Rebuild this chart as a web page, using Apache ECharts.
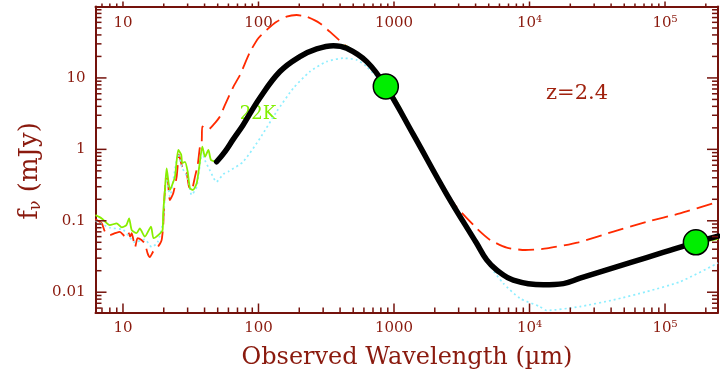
<!DOCTYPE html>
<html>
<head>
<meta charset="utf-8">
<script src="https://cdn.jsdelivr.net/npm/echarts@6.0.0/dist/echarts.min.js"></script>
<style>
  html, body { margin: 0; padding: 0; background: #ffffff; }
  #chart { width: 720px; height: 375px; }
</style>
</head>
<body>
<div id="chart"></div>
<script>
// Axis ranges (observed wavelength in micron, flux density in mJy)
const xRange = [6.27, 2.46e5];
const yRange = [0.0052, 100];

// Tick positions and labels
const xMajorTicks = [10, 100, 1000, 1e4, 1e5];
const xTickLabels = ['10', '100', '1000', '10⁴', '10⁵'];
const xMinorTicks = [7, 8, 9, 20, 30, 40, 50, 60, 70, 80, 90,
  200, 300, 400, 500, 600, 700, 800, 900,
  2000, 3000, 4000, 5000, 6000, 7000, 8000, 9000,
  20000, 30000, 40000, 50000, 60000, 70000, 80000, 90000, 200000];
const yMajorTicks = [0.01, 0.1, 1, 10];
const yTickLabels = ['0.01', '0.1', '1', '10'];
const yMinorTicks = [0.006, 0.007, 0.008, 0.009,
  0.02, 0.03, 0.04, 0.05, 0.06, 0.07, 0.08, 0.09,
  0.2, 0.3, 0.4, 0.5, 0.6, 0.7, 0.8, 0.9,
  2, 3, 4, 5, 6, 7, 8, 9,
  20, 30, 40, 50, 60, 70, 80, 90];

// Upper model SED (red dashed)
const warmModel = [
  [6.27, 0.105], [6.97, 0.092], [7.37, 0.070], [8.0, 0.063], [8.73, 0.067], [9.5, 0.070],
  [10.3, 0.061], [10.9, 0.070], [11.3, 0.060], [11.6, 0.067], [12.3, 0.043], [12.8, 0.057],
  [13.7, 0.054], [14.5, 0.048], [15.2, 0.035], [15.8, 0.031], [16.7, 0.037], [17.7, 0.041],
  [18.8, 0.048], [19.3, 0.054], [19.8, 0.083], [20.2, 0.195], [20.8, 0.415], [21.4, 0.37],
  [22.2, 0.195], [23.5, 0.243], [24.9, 0.415], [25.9, 0.84], [26.9, 0.64], [27.9, 0.51],
  [29.5, 0.46], [30.7, 0.30], [32.1, 0.27], [34.0, 0.415], [35.6, 0.605], [37.0, 1.09],
  [38.1, 1.28], [38.5, 2.1], [42.7, 1.9], [46.4, 2.2], [52, 2.9], [56.6, 4.2], [65.2, 7.5],
  [73, 11], [86.5, 23], [99.7, 36], [115, 47], [136, 61], [161, 72], [191, 76], [227, 72],
  [285, 58], [357, 40], [448, 27.4], [531, 21], [629, 16.5], [870, 7.6], [1387, 1.62],
  [2449, 0.25], [2880, 0.158], [4070, 0.0785], [5120, 0.054], [6790, 0.042], [9300, 0.039],
  [13400, 0.041], [23000, 0.050], [41600, 0.0705], [73300, 0.097], [129000, 0.127],
  [228000, 0.176], [246000, 0.181]
];

// 22 K model SED with PAH spectrum (green)
const pahModel = [
  [6.27, 0.12], [6.97, 0.108], [8.0, 0.087], [8.98, 0.092], [9.8, 0.081], [10.6, 0.087],
  [11.1, 0.108], [11.6, 0.074], [12.6, 0.067], [13.3, 0.078], [14.5, 0.060], [16.1, 0.083],
  [16.8, 0.057], [18.2, 0.063], [19.6, 0.074], [19.8, 0.127], [20.4, 0.27], [21.0, 0.54],
  [22.2, 0.27], [23.1, 0.32], [24.2, 0.415], [25.6, 0.98], [26.9, 0.84], [27.4, 0.64],
  [28.7, 0.67], [30.0, 0.49], [31.2, 0.285], [32.9, 0.27], [35.0, 0.335], [36.4, 0.54],
  [38.5, 1.09], [40.3, 0.79], [42.7, 0.98], [44.6, 0.71], [49.1, 0.67], [56.6, 0.93],
  [65, 1.38], [77, 2.2], [102, 5.2], [144, 12.3], [202, 19.9], [269, 25.5], [357, 28.8],
  [440, 28.2], [530, 22], [629, 17.4], [870, 7.9], [1070, 4.4], [1387, 1.62], [2449, 0.235],
  [4070, 0.048], [4830, 0.0283], [5720, 0.0205], [7590, 0.0148], [12650, 0.0127],
  [17800, 0.0132], [23600, 0.0157], [55300, 0.0259], [96800, 0.036],
  [169000, 0.048], [246000, 0.056]
];

// Lower model SED (cyan dotted)
const coldModel = [
  [6.27, 0.10], [8.0, 0.080], [10.0, 0.075], [12.3, 0.050], [14.5, 0.055], [16.3, 0.043],
  [18.0, 0.050], [19.8, 0.10], [21.0, 0.45], [22.2, 0.22], [25.6, 0.85], [27.4, 0.55],
  [30.0, 0.40], [32.1, 0.23], [35.0, 0.30], [38.5, 0.90], [40.3, 0.70], [44.0, 0.50],
  [49.0, 0.35], [55.0, 0.45], [60.0, 0.49], [77, 0.67], [102.6, 1.43], [136, 3.37],
  [181, 7.2], [240, 12.3], [318, 16.9], [423, 18.9], [531, 17.9], [629, 14.4], [870, 7.3],
  [1387, 1.55], [2449, 0.225], [3849, 0.058], [4830, 0.0268], [6410, 0.0133], [8500, 0.0082],
  [11900, 0.0063], [13400, 0.00555], [23600, 0.0063], [41600, 0.0078], [73300, 0.0102],
  [129000, 0.014], [246000, 0.0256]
];

// Best-fit SED (black)
const bestFit = [
  [49.1, 0.67], [56.6, 0.93], [65, 1.38], [77, 2.2], [102, 5.2], [144, 12.3], [202, 19.9],
  [269, 25.5], [357, 28.3], [448, 26], [629, 16.9], [870, 7.6], [1387, 1.62], [2449, 0.235],
  [4070, 0.0484], [4830, 0.0283], [5720, 0.0205], [7590, 0.0148], [12650, 0.0127],
  [17800, 0.0132], [23600, 0.0157], [55300, 0.0259], [96800, 0.036],
  [169000, 0.050], [246000, 0.061]
];

// Photometric detections (850 um and 1.4 GHz)
const detections = [[870, 7.6], [169000, 0.050]];

const axisColor = '#74120c';
const textColor = '#8a1a0e';
const serif = 'DejaVu Serif';

function majorIndex(v) { return Math.round(Math.log10(v)); }

const chart = echarts.init(document.getElementById('chart'), null, { renderer: 'canvas' });

chart.setOption({
  backgroundColor: '#ffffff',
  animation: false,
  grid: { left: 95.5, right: 2, top: 6.5, bottom: 62.5, containLabel: false },
  xAxis: [
    {
      type: 'log', logBase: 10, position: 'bottom', min: xRange[0], max: xRange[1],
      axisLine: { show: true, onZero: false, lineStyle: { color: axisColor, width: 2 } },
      axisTick: { show: false },
      axisLabel: { customValues: xMajorTicks, color: textColor, fontFamily: serif, fontSize: 15, margin: 8,
        formatter: function (v) { return xTickLabels[majorIndex(v) - 1]; } },
      splitLine: { show: false }, minorTick: { show: false }
    },
    {
      type: 'log', logBase: 10, position: 'top', min: xRange[0], max: xRange[1],
      axisLine: { show: true, onZero: false, lineStyle: { color: axisColor, width: 2 } },
      axisTick: { show: false },
      axisLabel: { customValues: xMajorTicks, inside: true, color: textColor, fontFamily: serif, fontSize: 15, margin: 9,
        formatter: function (v) { return xTickLabels[majorIndex(v) - 1]; } },
      splitLine: { show: false }, minorTick: { show: false }
    }
  ],
  yAxis: [
    {
      type: 'log', logBase: 10, position: 'left', min: yRange[0], max: yRange[1],
      axisLine: { show: true, onZero: false, lineStyle: { color: axisColor, width: 2 } },
      axisTick: { show: false },
      axisLabel: { customValues: yMajorTicks, color: textColor, fontFamily: serif, fontSize: 15, margin: 10,
        formatter: function (v) { return yTickLabels[majorIndex(v) + 2]; } },
      splitLine: { show: false }, minorTick: { show: false }
    },
    {
      type: 'log', logBase: 10, position: 'right', min: yRange[0], max: yRange[1],
      axisLine: { show: true, onZero: false, lineStyle: { color: axisColor, width: 2 } },
      axisTick: { show: false }, axisLabel: { show: false },
      splitLine: { show: false }, minorTick: { show: false }
    }
  ],
  series: [
    {
      name: 'warm', type: 'line', data: warmModel, showSymbol: false, smooth: 0.2, z: 2,
      lineStyle: { color: '#ff2a00', width: 1.8, type: [16, 7] }
    },
    {
      name: 'cold', type: 'line', data: coldModel, showSymbol: false, smooth: 0.2, z: 2,
      lineStyle: { color: '#8eeeff', width: 1.7, type: [2, 3] }
    },
    {
      name: 'pah', type: 'line', data: pahModel, showSymbol: false, smooth: 0.2, z: 3,
      lineStyle: { color: '#88ee00', width: 1.8 }
    },
    {
      name: 'fit', type: 'line', data: bestFit, showSymbol: false, smooth: 0.4, z: 4,
      lineStyle: { color: '#000000', width: 5.5, cap: 'round', join: 'round' }
    },
    {
      name: 'detections', type: 'scatter', data: detections, symbol: 'circle', symbolSize: 25, z: 5,
      itemStyle: { color: '#00ee00', borderColor: '#000000', borderWidth: 1.5, opacity: 1 }
    }
  ]
});

// Frame tick marks: positions come from the axes' own scale via convertToPixel
function toPx(x, y) { return chart.convertToPixel({ gridIndex: 0 }, [x, y]); }
function bar(x, y, w, h) {
  return { type: 'rect', silent: true, z: 10,
    shape: { x: x, y: y, width: w, height: h }, style: { fill: axisColor } };
}
const tickMarks = [];
function addXTicks(values, lenIn, lenOut) {
  values.forEach(function (v) {
    const b = toPx(v, yRange[0]);
    const t = toPx(v, yRange[1]);
    tickMarks.push(bar(b[0] - 0.75, b[1] - lenIn, 1.5, lenIn));   // bottom, pointing in
    tickMarks.push(bar(t[0] - 0.75, t[1] - lenOut, 1.5, lenOut)); // top, pointing out
  });
}
function addYTicks(values, len) {
  values.forEach(function (v) {
    const l = toPx(xRange[0], v);
    const r = toPx(xRange[1], v);
    tickMarks.push(bar(l[0], l[1] - 0.75, len, 1.5));
    tickMarks.push(bar(r[0] - len, r[1] - 0.75, len, 1.5));
  });
}
addXTicks(xMajorTicks, 9, 5);
addXTicks(xMinorTicks, 5, 3);
addYTicks(yMajorTicks, 11);
addYTicks(yMinorTicks, 6);

const titles = [
  {
    type: 'text', x: 30, y: 171, rotation: Math.PI / 2, z: 10,
    style: {
      text: '{f|f}{s|ν}{u| (mJy)}', align: 'center', verticalAlign: 'middle',
      rich: {
        f: { fontFamily: serif, fontSize: 26, fill: textColor, color: textColor },
        s: { fontFamily: serif, fontSize: 16, fill: textColor, color: textColor, padding: [12, 0, 0, 0] },
        u: { fontFamily: serif, fontSize: 26, fill: textColor, color: textColor }
      }
    }
  },
  {
    type: 'text', x: 407, y: 358, z: 10,
    style: { text: 'Observed Wavelength (µm)', align: 'center', verticalAlign: 'middle',
      font: '24px "DejaVu Serif"', fill: textColor }
  },
  {
    type: 'text', x: 577, y: 94, z: 10,
    style: { text: 'z=2.4', align: 'center', verticalAlign: 'middle',
      font: '21px "DejaVu Serif"', fill: '#a0220e' }
  },
  {
    type: 'text', x: 258, y: 114, z: 1,
    style: { text: '22K', align: 'center', verticalAlign: 'middle',
      font: '18px "DejaVu Serif"', fill: '#80f000' }
  }
];

chart.setOption({ graphic: titles.concat(tickMarks) });
</script>
</body>
</html>
